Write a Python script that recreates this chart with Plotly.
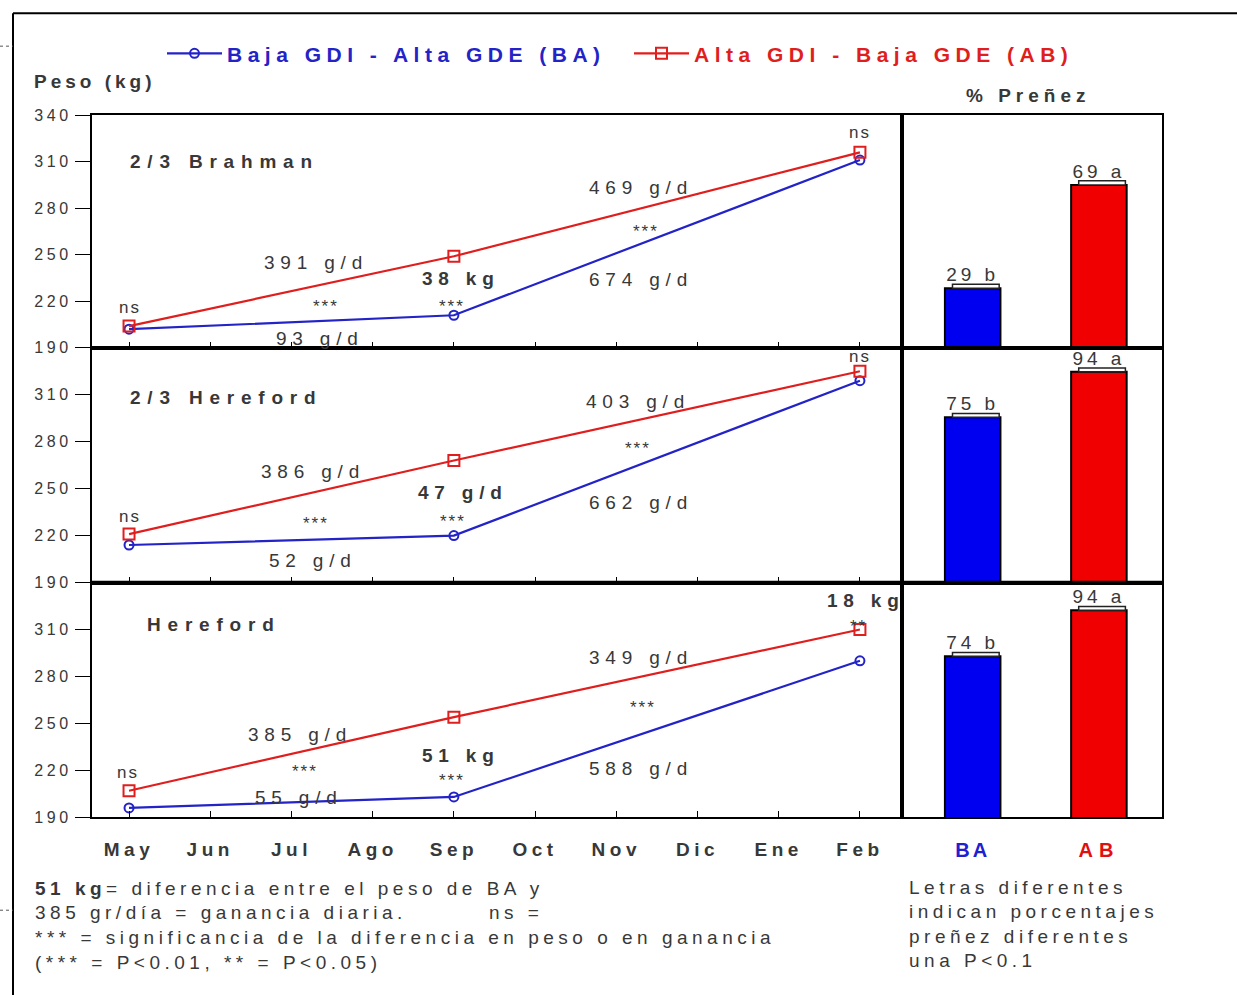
import plotly.graph_objects as go

# ---------------- data ----------------
months = ["May", "Jun", "Jul", "Ago", "Sep", "Oct", "Nov", "Dic", "Ene", "Feb"]
sample_months = ["May", "Sep", "Feb"]
panel_names = ["2/3 Brahman", "2/3 Hereford", "Hereford"]
ba_weights = [[202, 211, 311], [214, 220, 319], [196, 203, 290]]
ab_weights = [[204, 249, 316], [221, 268, 325], [207, 254, 310]]
preg_groups = ["BA", "AB"]
preg_ba = [29, 75, 74]
preg_ab = [69, 94, 94]
letters_ba = ["b", "b", "b"]
letters_ab = ["a", "a", "a"]
y_ticks_top = [190, 220, 250, 280, 310, 340]
y_ticks_other = [190, 220, 250, 280, 310]

W, H = 1237, 995
BLUE = "#2323c8"
RED = "#e01e1e"
TXT = "#383838"
FONT = "Liberation Sans, Arial, sans-serif"


def sp(text, ls, color=None):
    st = f"letter-spacing:{ls}px"
    if color:
        st += f";color:{color}"
    return f'<span style="{st}">{text}</span>'


def px(x):
    return x / W


def py(y):
    # page-pixel y (from top) -> paper fraction, compensating the photo's vertical mapping
    yp = (y - 6.8) / 0.984
    return 1 - yp / H


LX0, LX1, BX1 = 92, 902, 1162
panel_tops = [114, 347, 582]
panel_bots = [347, 582, 817]

fig = go.Figure()
layout = dict(
    width=W, height=H, margin=dict(l=0, r=0, t=0, b=0),
    paper_bgcolor="white", plot_bgcolor="white",
    font=dict(family=FONT, color=TXT),
    showlegend=True,
    legend=dict(orientation="h", x=px(162), y=py(32), xanchor="left", yanchor="top",
                font=dict(size=21, family=FONT), entrywidth=397, entrywidthmode="pixels",
                itemwidth=55, bgcolor="rgba(0,0,0,0)"),
)

bar_ranges = [[6, 96], [6, 104], [4, 106]]
for i in range(3):
    lx, ly, bx, by = f"x{i+1}", f"y{i+1}", f"x{i+4}", f"y{i+4}"
    dom_y = [py(panel_bots[i]), py(panel_tops[i])]
    fig.add_trace(go.Scatter(
        x=sample_months, y=ba_weights[i], xaxis=lx, yaxis=ly, mode="lines+markers",
        line=dict(color=BLUE, width=2.2),
        marker=dict(symbol="circle-open", size=9, color=BLUE, line=dict(width=2)),
        name="<b>" + sp("Baja GDI - Alta GDE (BA)", 5.5, BLUE) + "</b>",
        showlegend=(i == 0), cliponaxis=False))
    fig.add_trace(go.Scatter(
        x=sample_months, y=ab_weights[i], xaxis=lx, yaxis=ly, mode="lines+markers",
        line=dict(color=RED, width=2.2),
        marker=dict(symbol="square-open", size=11, color=RED, line=dict(width=2)),
        name="<b>" + sp("Alta GDI - Baja GDE (AB)", 5.5, RED) + "</b>",
        showlegend=(i == 0), cliponaxis=False))
    fig.add_trace(go.Bar(
        x=preg_groups, y=[preg_ba[i], preg_ab[i]], xaxis=bx, yaxis=by,
        marker=dict(color=["#0000f0", "#f00000"], line=dict(color="black", width=2)),
        text=[sp(f"{preg_ba[i]} {letters_ba[i]}", 4), sp(f"{preg_ab[i]} {letters_ab[i]}", 4)],
        textposition="outside", textfont=dict(size=19, color=TXT, family=FONT),
        cliponaxis=False, showlegend=False, width=0.44))

    last = (i == 2)
    layout[f"xaxis{i+1}"] = dict(
        domain=[px(LX0), px(LX1)], anchor=ly, type="category",
        categoryorder="array", categoryarray=months,
        range=[-0.456, 9.518], showline=True, linecolor="black", linewidth=2,
        mirror=True, ticks="inside", ticklen=6, tickcolor="black",
        showgrid=False, zeroline=False,
        tickvals=months, ticktext=["<b>" + sp(m, 4.5) + "</b>" for m in months],
        showticklabels=last, ticklabelstandoff=14,
        tickfont=dict(size=19, color=TXT, family=FONT))
    tv = y_ticks_top if i == 0 else y_ticks_other
    layout[f"yaxis{i+1}"] = dict(
        domain=dom_y, anchor=lx, range=[190, 340],
        tickvals=tv, ticktext=[sp(str(v), 3.6) for v in tv],
        showline=True, linecolor="black", linewidth=2, mirror=True,
        ticks="outside", ticklen=15, tickcolor="black", showgrid=False, zeroline=False,
        tickfont=dict(size=16, color=TXT, family=FONT))
    layout[f"xaxis{i+4}"] = dict(
        domain=[px(LX1), px(BX1)], anchor=by, type="category",
        range=[-0.56, 1.5], showline=True, linecolor="black", linewidth=2, mirror=True,
        ticks="", showgrid=False, zeroline=False,
        tickvals=preg_groups,
        ticktext=["<b>" + sp("BA", 3, "#2020d0") + "</b>",
                  "<b>" + sp("AB", 6, "#e01010") + "</b>"],
        showticklabels=last, ticklabelstandoff=14, tickfont=dict(size=20, family=FONT))
    layout[f"yaxis{i+4}"] = dict(
        domain=dom_y, anchor=bx, range=bar_ranges[i], showline=True, linecolor="black",
        linewidth=2, mirror=True, showticklabels=False, ticks="", showgrid=False,
        zeroline=False)

fig.update_layout(**layout)

ann = []


def add(text, x, y, size=18, bold=False, color=TXT, xanchor="center", ls=0):
    t = sp(text, ls) if ls else text
    ann.append(dict(text=f"<b>{t}</b>" if bold else t, x=px(x), y=py(y),
                    xref="paper", yref="paper", showarrow=False, xanchor=xanchor,
                    yanchor="middle", font=dict(size=size, color=color, family=FONT)))


add(panel_names[0], 128, 160, size=19, bold=True, xanchor="left", ls=6.8)
add(panel_names[1], 128, 397, size=19, bold=True, xanchor="left", ls=6.8)
add(panel_names[2], 145, 624, size=19, bold=True, xanchor="left", ls=6.8)

for t, x, y, b in [("ns", 130, 307, False), ("391 g/d", 316, 262, False), ("***", 326, 306, False),
                   ("93 g/d", 320, 338, False), ("38 kg", 461, 278, True), ("***", 452, 306, False),
                   ("469 g/d", 641, 186, False), ("***", 646, 231, False), ("674 g/d", 641, 279, False),
                   ("ns", 860, 131, False),
                   ("ns", 130, 516, False), ("386 g/d", 313, 471, False), ("***", 316, 523, False),
                   ("52 g/d", 313, 560, False), ("47 g/d", 463, 492, True), ("***", 453, 521, False),
                   ("403 g/d", 638, 401, False), ("***", 638, 448, False), ("662 g/d", 641, 502, False),
                   ("ns", 860, 356, False),
                   ("ns", 128, 772, False), ("385 g/d", 300, 734, False), ("***", 305, 771, False),
                   ("55 g/d", 299, 797, False), ("51 kg", 461, 755, True), ("***", 452, 780, False),
                   ("349 g/d", 641, 657, False), ("***", 643, 707, False), ("588 g/d", 641, 768, False),
                   ("18 kg", 866, 600, True), ("**", 858, 626, False)]:
    if t in ("ns", "***", "**"):
        add(t, x, y, size=17, bold=b, ls=2)
    else:
        add(t, x, y, size=19, bold=b, ls=5.8)

add("Peso (kg)", 32, 80, size=19, bold=True, xanchor="left", ls=4)
add("% Preñez", 1028, 94, size=19, bold=True, ls=5)

foot_ls = 4.5
ann.append(dict(text=sp("<b>51 kg</b>= diferencia entre el peso de BA y", foot_ls), x=px(33), y=py(888),
                xref="paper", yref="paper", showarrow=False, xanchor="left", yanchor="middle",
                font=dict(size=19, color=TXT, family=FONT)))
add("385 gr/día = ganancia diaria.", 33, 912, size=19, xanchor="left", ls=foot_ls)
add("ns =", 487, 912, size=19, xanchor="left", ls=foot_ls)
add("*** = significancia de la diferencia en peso o en ganancia", 33, 937, size=19, xanchor="left", ls=foot_ls)
add("(*** = P<0.01, ** = P<0.05)", 33, 962, size=19, xanchor="left", ls=foot_ls)
for k, line in enumerate(["Letras diferentes", "indican porcentajes", "preñez diferentes", "una P<0.1"]):
    add(line, 907, 887 + 24.5 * k, size=19, xanchor="left", ls=4.5)

fig.update_layout(annotations=ann)

shapes = [
    dict(type="line", xref="paper", yref="paper", x0=px(13), x1=px(13), y0=py(12), y1=py(995),
         line=dict(color="black", width=2)),
    dict(type="line", xref="paper", yref="paper", x0=px(13), x1=1, y0=py(12), y1=py(12),
         line=dict(color="black", width=2)),
    dict(type="line", xref="paper", yref="paper", x0=0, x1=px(13), y0=py(45), y1=py(45),
         line=dict(color="#555", width=1, dash="dot")),
    dict(type="line", xref="paper", yref="paper", x0=0, x1=px(13), y0=py(910), y1=py(910),
         line=dict(color="#555", width=1, dash="dot")),
]
for ysep in [347, 582]:
    shapes.append(dict(type="line", xref="paper", yref="paper", x0=px(LX0), x1=px(BX1),
                       y0=py(ysep), y1=py(ysep), line=dict(color="black", width=3.5)))
for i in range(3):
    for j, v in enumerate([preg_ba[i], preg_ab[i]]):
        shapes.append(dict(type="rect", xref=f"x{i+4}", yref=f"y{i+4}",
                           x0=j - 0.16, x1=j + 0.21, y0=v, y1=v + 1.6,
                           line=dict(color="#222", width=1.5), fillcolor="white"))
fig.update_layout(shapes=shapes)

post = ("document.documentElement.style.margin='0';document.body.style.margin='0';"
        "document.documentElement.style.overflow='hidden';document.body.style.overflow='hidden';"
        "var gd=document.getElementById('{plot_id}');gd.style.position='fixed';"
        "gd.style.top='0px';gd.style.left='0px';")
fig.write_html("out.html", config={"displayModeBar": False}, post_script=post)
